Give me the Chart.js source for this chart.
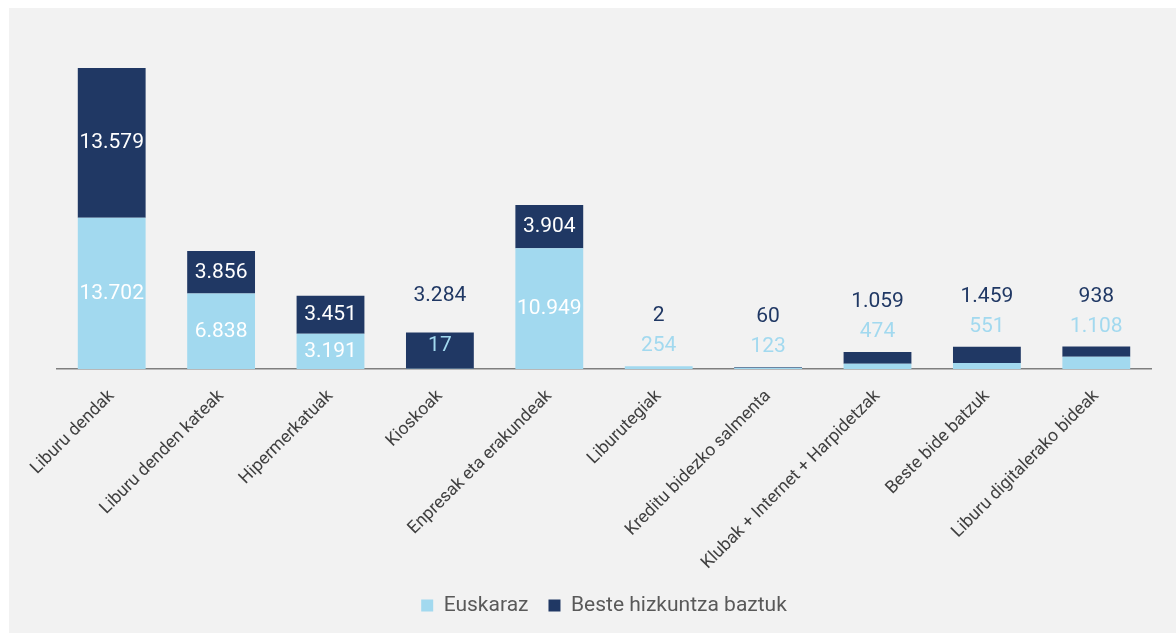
<!DOCTYPE html>
<html>
<head>
<meta charset="utf-8">
<script src="https://cdn.jsdelivr.net/npm/chart.js@4/dist/chart.umd.min.js"></script>
<style>
  html, body { margin: 0; padding: 0; background: #fff; }
  #wrap { position: absolute; left: 9px; top: 8px; width: 1167px; height: 625px; background: #f2f2f2; }
</style>
</head>
<body>
<div id="wrap"><canvas id="chart"></canvas></div>
<script>
var categories = ['Liburu dendak', 'Liburu denden kateak', 'Hipermerkatuak', 'Kioskoak',
  'Enpresak eta erakundeak', 'Liburutegiak', 'Kreditu bidezko salmenta',
  'Klubak + Internet + Harpidetzak', 'Beste bide batzuk', 'Liburu digitalerako bideak'];
var euskaraz = [13702, 6838, 3191, 17, 10949, 254, 123, 474, 551, 1108];
var besteak = [13579, 3856, 3451, 3284, 3904, 2, 60, 1059, 1459, 938];

var LIGHT = '#a2d9ef';
var NAVY = '#203864';

function fmt(n) {
  return n.toString().replace(/\B(?=(\d{3})+(?!\d))/g, '.');
}

// value labels: inside the segment when there is room, otherwise stacked above the bar
var barLabels = {
  id: 'barLabels',
  afterDatasetsDraw: function(chart) {
    var ctx = chart.ctx;
    var m0 = chart.getDatasetMeta(0), m1 = chart.getDatasetMeta(1);
    ctx.save();
    ctx.font = '21px Roboto';
    ctx.textAlign = 'center';
    ctx.textBaseline = 'middle';
    euskaraz.forEach(function(v, i) {
      var a = m0.data[i], b = m1.data[i];
      var hA = a.base - a.y, hB = b.base - b.y;
      var aIn = hA >= 30, bIn = hB >= 30;
      var aY, aCol, bY, bCol;
      if (aIn) { aY = (a.y + a.base) / 2; aCol = '#fff'; }
      else if (bIn) { aY = (b.y + b.base) / 2 - 5; aCol = LIGHT; }
      else { aY = b.y - 20; aCol = LIGHT; }
      if (aIn && bIn) { bY = (b.y + b.base) / 2; bCol = '#fff'; }
      else if (bIn) { bY = b.y - 37; bCol = NAVY; }
      else { bY = b.y - 50; bCol = NAVY; }
      ctx.fillStyle = aCol;
      ctx.fillText(fmt(v), a.x, aY);
      ctx.fillStyle = bCol;
      ctx.fillText(fmt(besteak[i]), b.x, bY);
    });
    ctx.restore();
  }
};

new Chart(document.getElementById('chart'), {
  type: 'bar',
  data: {
    labels: categories,
    datasets: [
      { label: 'Euskaraz', data: euskaraz, backgroundColor: LIGHT },
      { label: 'Beste hizkuntza baztuk', data: besteak, backgroundColor: NAVY }
    ]
  },
  options: {
    responsive: true,
    maintainAspectRatio: false,
    animation: false,
    datasets: { bar: { barPercentage: 0.62, categoryPercentage: 1 } },
    layout: { padding: { left: 48, right: 25, top: 30, bottom: 7 } },
    scales: {
      x: {
        stacked: true,
        grid: { display: false, drawTicks: false },
        border: { color: '#7f7f7f', width: 1.5 },
        ticks: {
          maxRotation: 45, minRotation: 45, padding: 17, labelOffset: 0,
          color: '#404040', font: { family: 'Roboto', size: 17.5 }
        },
        afterFit: function(s) { s.height = 206; }
      },
      y: { stacked: true, display: false, min: 0, max: 30000 }
    },
    plugins: {
      legend: {
        position: 'bottom',
        labels: {
          boxWidth: 12, boxHeight: 12, padding: 20,
          color: '#595959', font: { family: 'Roboto', size: 21 }
        }
      },
      tooltip: { enabled: false }
    }
  },
  plugins: [barLabels]
});
</script>
</body>
</html>
